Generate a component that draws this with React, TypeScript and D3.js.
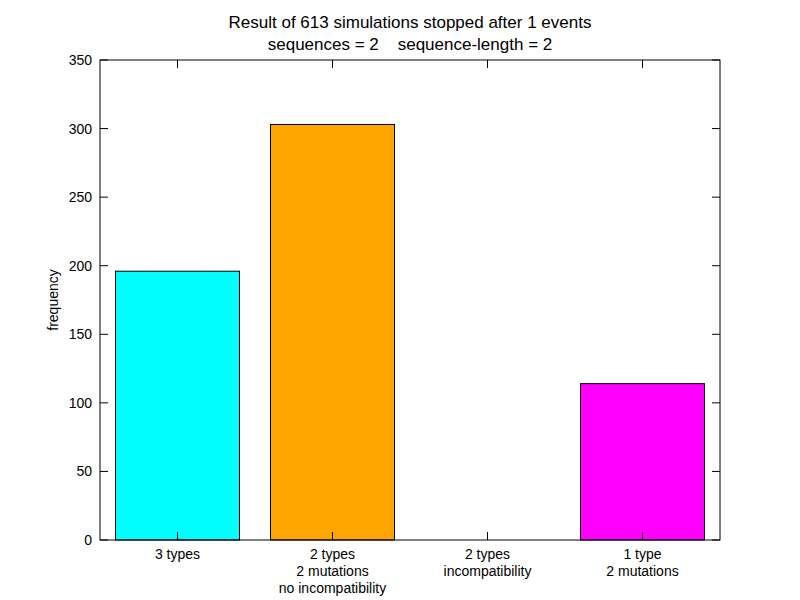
import * as d3 from "d3";

const categories = ["3 types", "2 types\n2 mutations\nno incompatibility", "2 types\nincompatibility", "1 type\n2 mutations"];
const values = [196, 303, 0, 114];
const colors = ["#00ffff", "#ffa500", "#0000ff", "#ff00ff"];
const yTicks = [0, 50, 100, 150, 200, 250, 300, 350];

export default function App() {
  const width = 800, height = 600;
  const m = { left: 100, right: 720, top: 60, bottom: 540 };
  const x = d3.scaleBand<string>().domain(categories).range([m.left, m.right]).paddingInner(0.2).paddingOuter(0.1);
  const y = d3.scaleLinear().domain([0, 350]).range([m.bottom, m.top]);
  const font = "Liberation Sans, Arial, sans-serif";
  return (
    <svg width={width} height={height} style={{ position: "absolute", left: 0, top: 0, background: "#fff" }} fontFamily={font}>
      <text x={410} y={28} textAnchor="middle" fontSize={17}>Result of 613 simulations stopped after 1 events</text>
      <text x={410} y={50} textAnchor="middle" fontSize={17}>sequences = 2{"\u00a0\u00a0\u00a0\u00a0"}sequence-length = 2</text>
      {categories.map((c, i) => (
        <rect key={c} x={x(c)} y={y(values[i])} width={x.bandwidth()} height={y(0) - y(values[i])}
          fill={colors[i]} stroke="#000" strokeWidth={1} />
      ))}
      <rect x={m.left} y={m.top} width={m.right - m.left} height={m.bottom - m.top} fill="none" stroke="#000" strokeWidth={1} />
      {yTicks.map(t => (
        <g key={t}>
          <line x1={m.left} x2={m.left + 8} y1={y(t)} y2={y(t)} stroke="#000" />
          <line x1={m.right} x2={m.right - 8} y1={y(t)} y2={y(t)} stroke="#000" />
          <text x={m.left - 8} y={y(t) + 5} textAnchor="end" fontSize={14}>{t}</text>
        </g>
      ))}
      {categories.map(c => {
        const cx = x(c)! + x.bandwidth() / 2;
        return (
          <g key={c}>
            <line x1={cx} x2={cx} y1={m.bottom} y2={m.bottom - 8} stroke="#000" />
            <line x1={cx} x2={cx} y1={m.top} y2={m.top + 8} stroke="#000" />
            {c.split("\n").map((l, j) => (
              <text key={j} x={cx} y={m.bottom + 19 + j * 17} textAnchor="middle" fontSize={14}>{l}</text>
            ))}
          </g>
        );
      })}
      <text transform={`translate(58,${(m.top + m.bottom) / 2}) rotate(-90)`} textAnchor="middle" fontSize={14}>frequency</text>
    </svg>
  );
}
